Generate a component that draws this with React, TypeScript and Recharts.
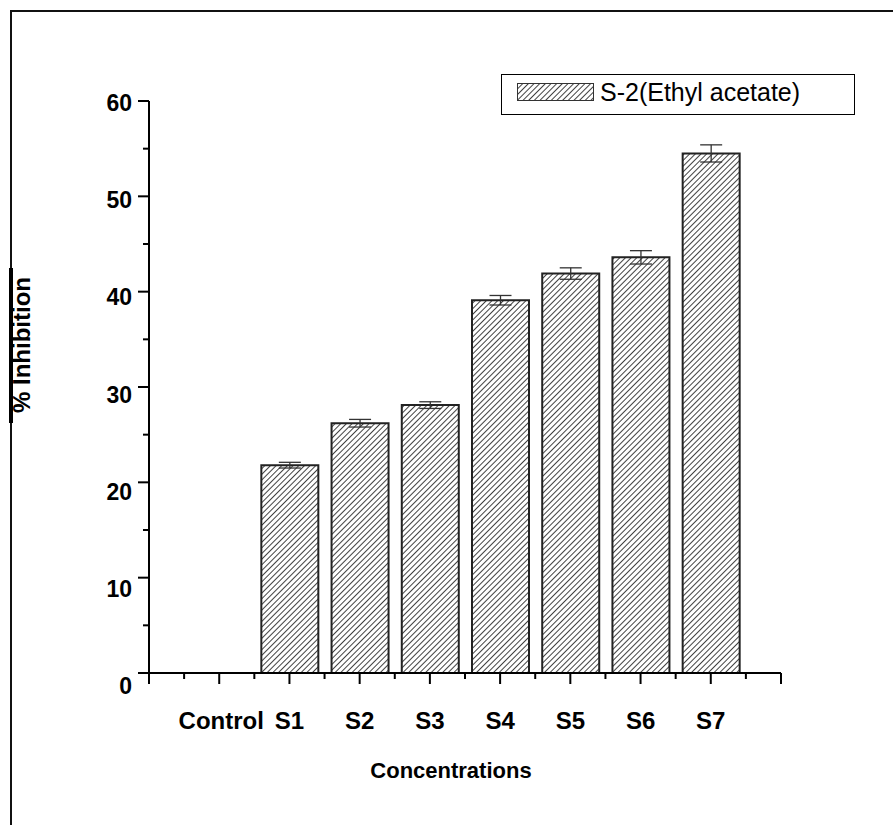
import { Bar, BarChart, ErrorBar, XAxis, YAxis } from "recharts"

// values
const categories = ["Control", "S1", "S2", "S3", "S4", "S5", "S6", "S7"]
const inhibition = [0, 21.8, 26.2, 28.1, 39.1, 41.9, 43.6, 54.5]
const errors = [null, 0.3, 0.4, 0.35, 0.5, 0.6, 0.7, 0.9]
const seriesName = "S-2(Ethyl acetate)"

const xTicks = [0, 0.5, 1, 1.5, 2, 2.5, 3, 3.5, 4, 4.5, 5, 5.5, 6, 6.5, 7, 7.5, 8, 8.5, 9]
const yTicks = [0, 5, 10, 15, 20, 25, 30, 35, 40, 45, 50, 55, 60]
const tickLabels = ["", ...categories, ""]

const data = categories.map((name, i) => ({
  name,
  pos: i + 1,
  value: inhibition[i],
  err: errors[i],
}))

const FONT = "'Liberation Sans', Arial, sans-serif"

const XTick = (props: any) => {
  const { x, y, payload } = props
  const v = payload.value
  const major = Number.isInteger(v)
  const label = major ? tickLabels[v] : ""
  return (
    <g>
      <line x1={x} x2={x} y1={y} y2={y + (major ? 11 : 6)} stroke="#000" strokeWidth={2} />
      {label && (
        <text
          x={x + (label === "Control" ? 2 : 0)}
          y={y + 56}
          textAnchor="middle"
          fontFamily={FONT}
          fontWeight="bold"
          fontSize={24}
          fill="#000"
        >
          {label}
        </text>
      )}
    </g>
  )
}

const YTick = (props: any) => {
  const { x, y, payload } = props
  const v = payload.value
  const major = v % 10 === 0
  // labels drift slightly below their ticks toward the bottom in the original
  const drift = 2 + ((60 - v) / 60) * 11
  return (
    <g>
      <line x1={x} x2={x - (major ? 11 : 6)} y1={y} y2={y} stroke="#000" strokeWidth={2} />
      {major && (
        <text
          x={x - 17}
          y={y + drift + 8}
          textAnchor="end"
          fontFamily={FONT}
          fontWeight="bold"
          fontSize={23}
          fill="#000"
        >
          {v}
        </text>
      )}
    </g>
  )
}

const Hatch = ({ id }: { id: string }) => (
  <pattern id={id} patternUnits="userSpaceOnUse" width={4} height={4} patternTransform="rotate(45)">
    <rect width={4} height={4} fill="#fff" />
    <line x1={0} y1={0} x2={0} y2={4} stroke="#111" strokeWidth={1.6} />
  </pattern>
)

const LegendBox = () => (
  <div
    style={{
      position: "absolute",
      left: 501,
      top: 74,
      width: 352,
      height: 39,
      border: "1.5px solid #000",
      background: "#fff",
      fontFamily: FONT,
    }}
  >
    <svg width={78} height={19} style={{ position: "absolute", left: 15, top: 8 }}>
      <defs>
        <Hatch id="legendHatch" />
      </defs>
      <rect x={0.5} y={0.5} width={76} height={17} fill="url(#legendHatch)" stroke="#333" strokeWidth={1} />
    </svg>
    <span style={{ position: "absolute", left: 98, top: 3, fontSize: 25, color: "#000", lineHeight: "28px", whiteSpace: "nowrap" }}>
      {seriesName}
    </span>
  </div>
)

export default function App() {
  return (
    <div
      style={{
        position: "absolute",
        left: 0,
        top: 0,
        width: 893,
        height: 825,
        background: "#fff",
        overflow: "hidden",
        fontFamily: FONT,
      }}
    >
      {/* frame */}
      <div
        style={{
          position: "absolute",
          left: 10,
          top: 10,
          width: 900,
          height: 900,
          borderLeft: "2px solid #111",
          borderTop: "2px solid #111",
        }}
      />
      <div style={{ position: "absolute", left: 9, top: 268, width: 4, height: 155, background: "#000" }} />

      <div style={{ position: "absolute", left: 0, top: 0 }}>
        <BarChart
          width={893}
          height={825}
          data={data}
          margin={{ top: 101, right: 112, left: 89, bottom: 92 }}
        >
          <defs>
            <Hatch id="barHatch" />
          </defs>
          <XAxis
            type="number"
            dataKey="pos"
            domain={[0, 9]}
            ticks={xTicks}
            interval={0}
            height={60}
            tickSize={0}
            tickMargin={0}
            tickLine={false}
            axisLine={{ stroke: "#000", strokeWidth: 2 }}
            tick={<XTick />}
          />
          <YAxis
            domain={[0, 60]}
            ticks={yTicks}
            interval={0}
            width={60}
            tickSize={0}
            tickMargin={0}
            tickLine={false}
            axisLine={{ stroke: "#000", strokeWidth: 2 }}
            tick={<YTick />}
          />
          <Bar
            dataKey="value"
            name={seriesName}
            barSize={57}
            fill="url(#barHatch)"
            stroke="#222"
            strokeWidth={2}
            isAnimationActive={false}
          >
            <ErrorBar dataKey="err" width={11} stroke="#333" strokeWidth={1.3} />
          </Bar>
        </BarChart>
      </div>

      <LegendBox />

      <div
        style={{
          position: "absolute",
          left: 351,
          top: 758,
          width: 200,
          textAlign: "center",
          fontSize: 22,
          fontWeight: "bold",
          color: "#000",
        }}
      >
        Concentrations
      </div>
      <div
        style={{
          position: "absolute",
          left: 22,
          top: 345,
          transform: "translate(-50%, -50%) rotate(-90deg)",
          whiteSpace: "nowrap",
          fontSize: 24,
          fontWeight: "bold",
          color: "#000",
        }}
      >
        % Inhibition
      </div>
    </div>
  )
}
